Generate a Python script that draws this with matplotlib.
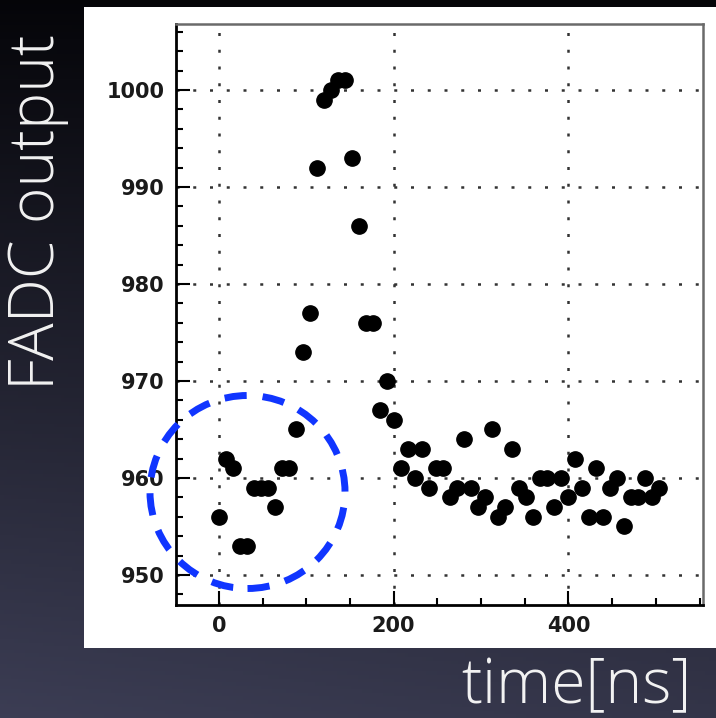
import numpy as np
import matplotlib
matplotlib.use("Agg")
import matplotlib.pyplot as plt
from matplotlib.patches import Rectangle, Ellipse
from matplotlib.ticker import MultipleLocator

# FADC samples of one pulse, one sample every 8 ns
sample_ns = 8
fadc_counts = [956, 962, 961, 953, 953, 959, 959, 959, 957, 961, 961, 965, 973,
               977, 992, 999, 1000, 1001, 1001, 993, 986, 976, 976, 967, 970,
               966, 961, 963, 960, 963, 959, 961, 961, 958, 959, 964, 959, 957,
               958, 965, 956, 957, 963, 959, 958, 956, 960, 960, 957, 960,
               958, 962, 959, 956, 961, 956, 959, 960, 955, 958, 958, 960, 958, 959]
time_ns = np.arange(len(fadc_counts)) * sample_ns

x_ticks = [0, 200, 400]
y_ticks = [950, 960, 970, 980, 990, 1000]

W, H = 716, 718
fig = plt.figure(figsize=(W / 100, H / 100), dpi=100)

# dark slide background, lighter towards the bottom left
bg = fig.add_axes([0, 0, 1, 1], zorder=-10)
yy, xx = np.mgrid[0:1:200j, 0:1:200j]
t = np.clip(0.85 * yy + 0.15 * (1 - xx) * yy, 0, 1)
top = np.array([0.02, 0.02, 0.035])
bottom = np.array([0.235, 0.24, 0.33])
img = top + (bottom - top) * t[..., None]
bg.imshow(img, aspect="auto", extent=[0, 1, 1, 0])
bg.set_xlim(0, 1)
bg.set_ylim(1, 0)
bg.axis("off")

# white panel behind the plot
fig.patches.append(Rectangle((84 / W, 1 - 648 / H), (W - 84) / W, 641 / H,
                             transform=fig.transFigure, facecolor="white",
                             edgecolor="none", zorder=-5))

ax = fig.add_axes([176 / W, 1 - 605 / H, 527 / W, 581 / H])
ax.set_facecolor("white")
ax.plot(time_ns, fadc_counts, "o", color="black", markersize=11, zorder=3)

ax.set_xlim(-49, 554)
ax.set_ylim(946.9, 1006.8)
ax.set_xticks(x_ticks)
ax.set_yticks(y_ticks)
ax.xaxis.set_minor_locator(MultipleLocator(50))
ax.yaxis.set_minor_locator(MultipleLocator(2))
ax.tick_params(which="both", direction="in", top=False, right=False,
               width=1.5, color="black")
ax.tick_params(which="major", length=10, pad=8, labelsize=15,
               labelcolor="#1a1a1a")
ax.tick_params(which="minor", length=5)
for lab in ax.get_xticklabels() + ax.get_yticklabels():
    lab.set_fontweight("bold")

ax.grid(True, which="major", color="#333333", linewidth=1.8,
        linestyle=(0, (1.2, 5.5)))
for side in ["left", "bottom"]:
    ax.spines[side].set_linewidth(2.0)
    ax.spines[side].set_color("black")
for side in ["top", "right"]:
    ax.spines[side].set_linewidth(1.8)
    ax.spines[side].set_color("#6a6a6a")

# dashed blue ring around the pre-pulse baseline
fig.patches.append(Ellipse((247.5 / W, 1 - 492 / H), 195 / W, 193 / H,
                           transform=fig.transFigure, fill=False,
                           edgecolor="#1035ff", linewidth=5,
                           linestyle=(0, (3.2, 2.3)), zorder=20))

fig.text(38 / W, 1 - 212 / H, "FADC output", rotation=90, ha="center",
         va="center", color="#f2f2f2", fontsize=45, family="Open Sans",
         fontweight="light")
fig.text(576 / W, 1 - 703 / H, "time[ns]", ha="center", va="baseline",
         color="#f2f2f2", fontsize=45, family="Open Sans", fontweight="light")

fig.savefig("out.png", dpi=100)
